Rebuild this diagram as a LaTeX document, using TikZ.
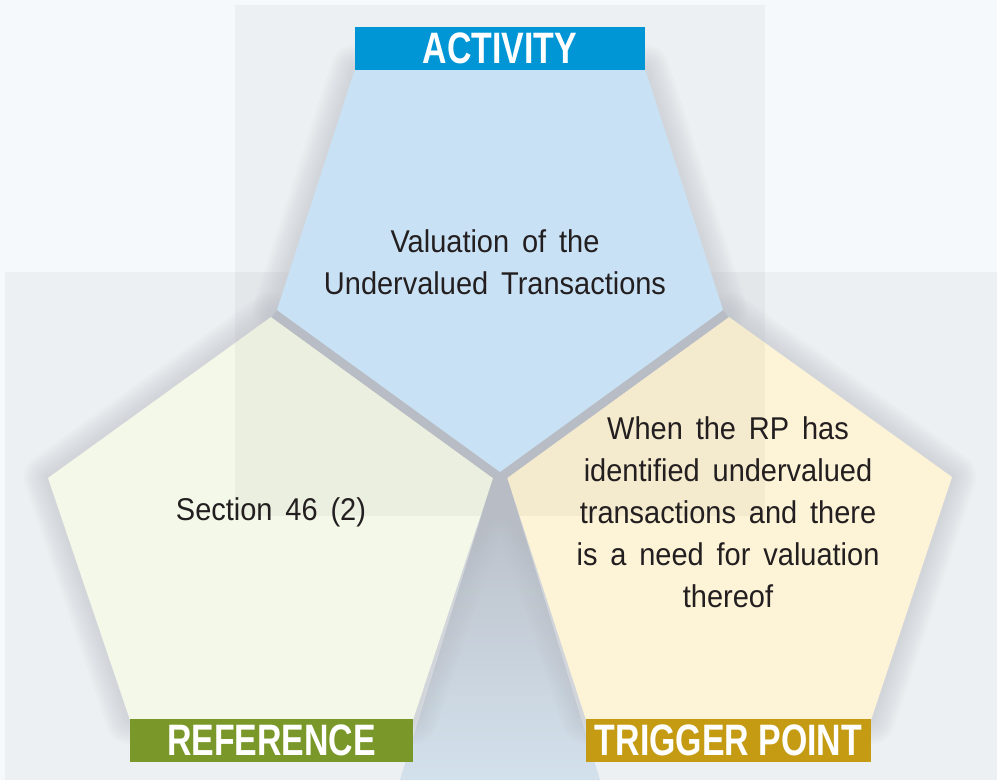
\documentclass[tikz,border=0pt]{standalone}
\usepackage{fontspec}
\setmainfont{Liberation Sans}[FakeStretch=0.92,WordSpace=1.6]
\newfontfamily\tagfont{Liberation Sans}[FakeStretch=0.77]

\definecolor{bgbase}{HTML}{F5F9FC}
\definecolor{actfill}{HTML}{C9E1F4}
\definecolor{reffill}{HTML}{F4F8E8}
\definecolor{trgfill}{HTML}{FDF3D6}
\definecolor{actbar}{HTML}{0096D6}
\definecolor{refbar}{HTML}{7A982A}
\definecolor{trgbar}{HTML}{C49B12}
\definecolor{gapgray}{HTML}{B8BCC4}
\definecolor{gapblue}{HTML}{D3E1EC}
\definecolor{txtdark}{HTML}{231F20}

\tikzset{
  halo/.style={draw=gapgray, draw opacity=0.07, line join=round},
  veil/.style={fill=black, fill opacity=0.035},
  tagbar/.style={minimum height=43pt, inner sep=0pt, text=white,
      font=\tagfont\bfseries\fontsize{44}{44}\selectfont},
  bodytext/.style={align=center, text=txtdark, font=\fontsize{31.5}{42}\selectfont},
}

\begin{document}
\begin{tikzpicture}[x=1pt,y=-1pt]
        % Background and panels
        \fill[bgbase] (0,0) rectangle (997,780);
        \useasboundingbox (0,0) rectangle (997,780);
        \fill[veil] (235,5) rectangle (765,515);
        \fill[veil] (5,272) rectangle (997,780);

        % Corners of the three pentagons
        \coordinate (a1) at (355,69);  \coordinate (a2) at (645,69);  \coordinate (a3) at (723,310);
        \coordinate (a4) at (500,472); \coordinate (a5) at (277,310);
        \coordinate (r1) at (271,317); \coordinate (r2) at (493,478); \coordinate (r3) at (413,720);
        \coordinate (r4) at (130,720); \coordinate (r5) at (48,478);
        \coordinate (t1) at (729,317); \coordinate (t2) at (952,477); \coordinate (t3) at (871,720);
        \coordinate (t4) at (586,720); \coordinate (t5) at (507,477);

        % Gray gap below the top pentagon
        \shade[top color=gapgray, bottom color=gapblue]
            (r2) -- (t5) -- (600,780) -- (400,780) -- cycle;

        % Soft shadows
        \foreach \w in {48,42,36,30,24,18,12,6} {
            \draw[halo, line width=\w pt] (a1) -- (a2) -- (a3) -- (a4) -- (a5) -- cycle;
            \draw[halo, line width=\w pt] (r1) -- (r2) -- (r3) -- (r4) -- (r5) -- cycle;
            \draw[halo, line width=\w pt] (t1) -- (t2) -- (t3) -- (t4) -- (t5) -- cycle;
        };

        % Side pentagons
        \fill[reffill] (r1) -- (r2) -- (r3) -- (r4) -- (r5) -- cycle;
        \fill[trgfill] (t1) -- (t2) -- (t3) -- (t4) -- (t5) -- cycle;
        \begin{scope}
            \clip (235,5) rectangle (765,515);
            \fill[veil] (r1) -- (r2) -- (r3) -- (r4) -- (r5) -- cycle;
            \fill[veil] (t1) -- (t2) -- (t3) -- (t4) -- (t5) -- cycle;
        \end{scope}

        % Top pentagon with its gray rim
        \draw[gapgray, line width=18pt, line join=miter] (a5) -- (a4) -- (a3);
        \fill[actfill] (a1) -- (a2) -- (a3) -- (a4) -- (a5) -- cycle;

        % Tag bars
        \node[tagbar, fill=actbar, minimum width=290pt] (activity) at (500,48) {ACTIVITY};
        \node[tagbar, fill=refbar, minimum width=283pt] (reference) at (271.5,740.5) {REFERENCE};
        \node[tagbar, fill=trgbar, minimum width=285pt] (trigger) at (728.5,740.5) {TRIGGER POINT};

        % Texts
        \node[bodytext] (acttext) at (495,262) {Valuation of the\\Undervalued Transactions};
        \node[bodytext] (reftext) at (271,512) {Section 46 (2)};
        \node[bodytext] (trgtext) at (728,512) {When the RP has\\identified undervalued\\transactions and there\\is a need for valuation\\thereof};
\end{tikzpicture}
\end{document}
